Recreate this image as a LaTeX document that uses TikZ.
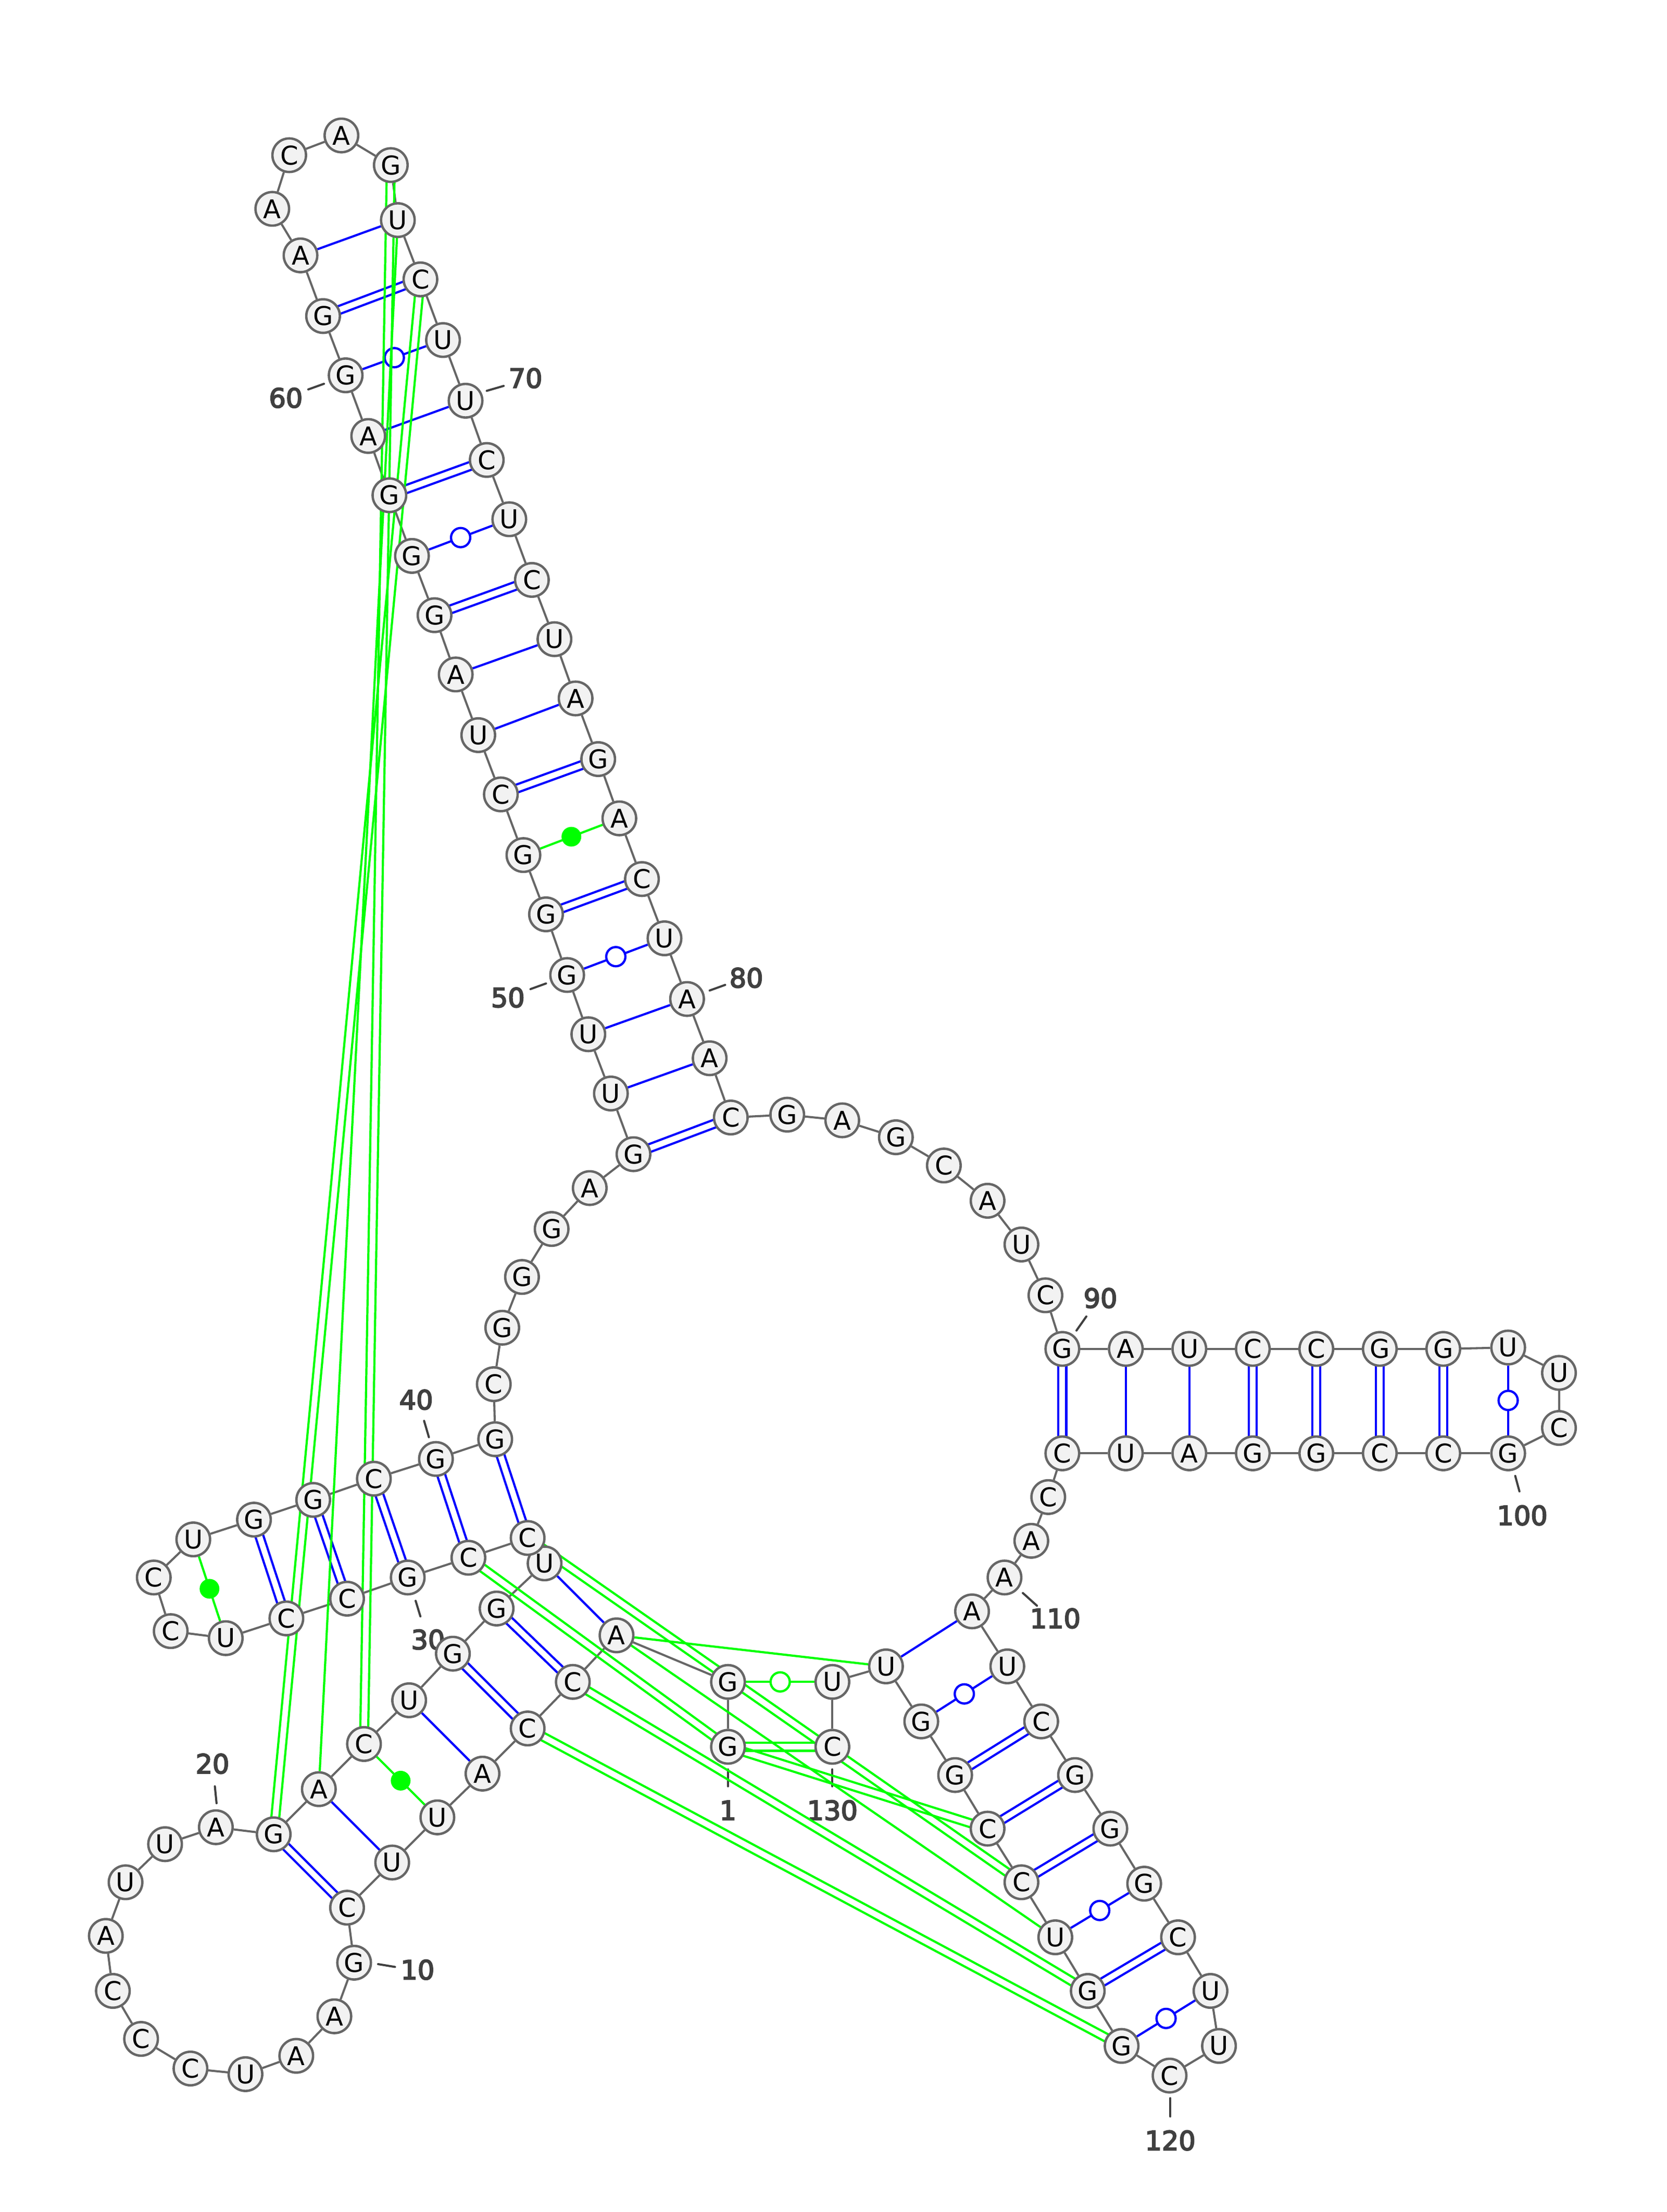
\documentclass[tikz,border=0pt]{standalone}
\usepackage{fontspec}
\setmainfont{DejaVu Sans}
\newfontfamily\numfont[FakeBold=4]{DejaVu Sans}
\usetikzlibrary{calc}
\definecolor{bbcol}{HTML}{666666}
\definecolor{ntfill}{HTML}{F2F2F2}
\definecolor{numcol}{HTML}{404040}
\definecolor{bpblue}{HTML}{0000FF}
\definecolor{bpgreen}{HTML}{00FF00}
\pgfdeclarelayer{labels}
\pgfdeclarelayer{backbone}
\pgfdeclarelayer{bluepairs}
\pgfdeclarelayer{greenpairs}
\pgfsetlayers{labels,backbone,bluepairs,greenpairs,main}
\tikzset{
  nt/.style={circle,draw=bbcol,fill=ntfill,line width=1.7pt,minimum size=23.8pt,inner sep=0pt,text=black,font=\fontsize{18.3}{18.3}\selectfont},
  bb/.style={draw=bbcol,line width=1.5pt},
  tick/.style={draw=numcol,line width=1.5pt,line cap=round},
  num/.style={text=numcol,inner sep=0pt,font=\numfont\fontsize{18.8}{18.8}\selectfont},
  pb/.style={draw=bpblue,line width=1.55pt},
  pg/.style={draw=bpgreen,line width=1.55pt},
  wobb/.style={circle,draw=bpblue,fill=white,line width=1.6pt,minimum size=13.6pt,inner sep=0pt},
  wobg/.style={circle,draw=bpgreen,fill=white,line width=1.6pt,minimum size=13.6pt,inner sep=0pt},
  fillg/.style={circle,fill=bpgreen,minimum size=14pt,inner sep=0pt},
}
\newcommand{\dbl}[3]{\draw[#1] ($(n#2)!2.8pt!90:(n#3)$) -- ($(n#3)!2.8pt!-90:(n#2)$);\draw[#1] ($(n#2)!2.8pt!-90:(n#3)$) -- ($(n#3)!2.8pt!90:(n#2)$);}
\newcommand{\sgl}[3]{\draw[#1] (n#2) -- (n#3);}
\newcommand{\mrk}[4]{\draw[#1] (n#3) -- node[#2] (m#3x#4) {} (n#4);}
\begin{document}
\begin{tikzpicture}[x=1pt,y=-1pt]
\path[use as bounding box] (0,0) rectangle (1181.3,1567.7);
\begin{pgfonlayer}{labels}
\fill[white] (0,0) rectangle (1181.3,1567.7);
\end{pgfonlayer}
\foreach \i/\b/\px/\py in {
1/G/516/1238,2/G/516/1192,3/A/437/1159,4/C/406/1192,5/C/374/1225,6/A/342/1257,7/U/310/1288,8/U/278/1320,9/C/246/1352,10/G/251/1391,
11/A/237/1429,12/A/210/1457,13/U/174/1470,14/C/135/1466,15/C/100/1445,16/C/80/1411,17/A/75/1372,18/U/89/1334,19/U/117/1307,20/A/153/1295,
21/G/194/1300,22/A/226/1268,23/C/258/1236,24/U/290/1205,25/G/321/1172,26/G/352/1140,27/U/386/1108,28/C/374/1090,29/C/332/1104,30/G/289/1118,
31/C/246/1133,32/C/203/1147,33/U/160/1161,34/C/121/1156,35/C/109/1118,36/U/137/1091,37/G/180/1077,38/G/222/1063,39/C/265/1048,40/G/309/1034,
41/G/351/1020,42/C/350/981,43/G/356/941,44/G/370/905,45/G/391/871,46/A/418/842,47/G/449/818,48/U/433/775,49/U/417/733,50/G/402/691,
51/G/387/648,52/G/371/606,53/C/355/563,54/U/339/521,55/A/323/478,56/G/308/436,57/G/292/394,58/G/276/351,59/A/261/309,60/G/245/266,
61/G/229/224,62/A/213/181,63/A/193/148,64/C/205/110,65/A/242/96,66/G/277/117,67/U/282/156,68/C/298/198,69/U/314/241,70/U/330/284,
71/C/345/326,72/U/361/368,73/C/377/411,74/U/393/453,75/A/408/495,76/G/424/538,77/A/439/580,78/C/455/623,79/U/471/665,80/A/487/708,
81/A/503/750,82/C/518/792,83/G/558/790,84/A/597/794,85/G/635/806,86/C/669/826,87/A/700/851,88/U/724/882,89/C/741/918,90/G/753/956,
91/A/798/956,92/U/843/956,93/C/888/956,94/C/933/956,95/G/978/956,96/G/1023/956,97/U/1069/955,98/U/1105/973,99/C/1105/1012,100/G/1069/1030,
101/C/1023/1030,102/C/978/1030,103/G/933/1030,104/G/888/1030,105/A/843/1030,106/U/798/1030,107/C/753/1030,108/C/743/1061,109/A/731/1092,110/A/712/1118,
111/A/689/1142,112/U/714/1181,113/C/738/1220,114/G/762/1258,115/G/787/1296,116/G/811/1335,117/C/835/1373,118/U/858/1411,119/U/864/1450,120/C/829/1471,
121/G/795/1450,122/G/771/1411,123/U/748/1373,124/C/724/1334,125/C/700/1296,126/G/677/1258,127/G/653/1220,128/U/628/1181,129/U/590/1192,130/C/590/1238}
  {\node[nt] (n\i) at (\px,\py) {\b};}
\begin{pgfonlayer}{labels}
\foreach \i/\t/\lx/\ly/\ax/\ay/\bx/\by in {
1/1/516/1283/516/1254/516/1266,
130/130/590/1283/590/1254/590/1266,
60/60/202.6/282/229.6/272/218.5/276,
70/70/372.5/268/345/277/357/273.5,
80/80/529/693/503/702/514/698,
50/50/360/707/387/697/376/701,
40/40/295/992/304/1018.6/300.6/1007,
30/30/303.4/1162/294.6/1134.5/298/1145.6,
20/20/150.6/1250/153.5/1278/152.3/1266,
10/10/296/1396/268/1392/280/1394,
90/90/780/920/763/943/770/933,
100/100/1079/1074/1074/1046/1077/1057,
110/110/748/1147/725/1129/735/1138,
120/120/829.5/1517/829.5/1487/829.5/1500}
{
  \node[num] (lab\i) at (\lx,\ly) {\t};
  \coordinate (ta\i) at (\ax,\ay);
  \coordinate (tb\i) at (\bx,\by);
  \draw[tick] (ta\i) -- (tb\i);
}
\end{pgfonlayer}
\begin{pgfonlayer}{backbone}
\foreach \i in {1,...,129}{\pgfmathtruncatemacro{\j}{\i+1}\draw[bb] (n\i) -- (n\j);}
\end{pgfonlayer}
\begin{pgfonlayer}{bluepairs}
\sgl{pb}{62}{67}\dbl{pb}{61}{68}\mrk{pb}{wobb}{60}{69}\sgl{pb}{59}{70}\dbl{pb}{58}{71}\mrk{pb}{wobb}{57}{72}
\dbl{pb}{56}{73}\sgl{pb}{55}{74}\sgl{pb}{54}{75}\dbl{pb}{53}{76}\mrk{pg}{fillg}{52}{77}\dbl{pb}{51}{78}
\mrk{pb}{wobb}{50}{79}\sgl{pb}{49}{80}\sgl{pb}{48}{81}\dbl{pb}{47}{82}
\dbl{pb}{90}{107}\sgl{pb}{91}{106}\sgl{pb}{92}{105}\dbl{pb}{93}{104}\dbl{pb}{94}{103}\dbl{pb}{95}{102}\dbl{pb}{96}{101}\mrk{pb}{wobb}{97}{100}
\dbl{pb}{41}{28}\dbl{pb}{40}{29}\dbl{pb}{39}{30}\dbl{pb}{38}{31}\dbl{pb}{37}{32}\mrk{pg}{fillg}{36}{33}
\sgl{pb}{27}{3}\dbl{pb}{26}{4}\dbl{pb}{25}{5}\sgl{pb}{24}{6}\mrk{pg}{fillg}{23}{7}\sgl{pb}{22}{8}\dbl{pb}{21}{9}
\sgl{pb}{111}{128}\mrk{pb}{wobb}{112}{127}\dbl{pb}{113}{126}\dbl{pb}{114}{125}\dbl{pb}{115}{124}\mrk{pb}{wobb}{116}{123}\dbl{pb}{117}{122}\mrk{pb}{wobb}{118}{121}
\end{pgfonlayer}
\begin{pgfonlayer}{greenpairs}
\mrk{pg}{wobg}{2}{129}\dbl{pg}{1}{130}
\dbl{pg}{66}{23}\sgl{pg}{67}{22}\dbl{pg}{68}{21}
\dbl{pg}{28}{124}\dbl{pg}{29}{1}\dbl{pg}{1}{125}
\sgl{pg}{3}{123}\sgl{pg}{3}{128}
\dbl{pg}{4}{122}\dbl{pg}{5}{121}
\end{pgfonlayer}
\end{tikzpicture}
\end{document}
